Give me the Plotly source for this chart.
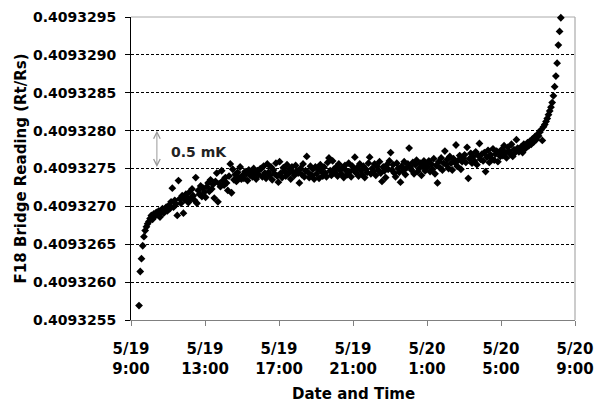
import plotly.graph_objects as go
import pandas as pd

# Bridge readings (Rt/Rs), one per scan
readings = [
    0.40932569, 0.40932614, 0.40932631, 0.40932648, 0.40932660, 0.40932668, 0.40932673, 0.40932677, 0.40932680,
    0.40932684, 0.40932688, 0.40932683, 0.40932690, 0.40932687, 0.40932692, 0.40932689, 0.40932694, 0.40932686, 0.40932693, 0.40932697, 0.40932691, 0.40932696, 0.40932699, 0.40932694,
    0.40932701, 0.40932697, 0.40932706, 0.40932724, 0.40932699, 0.40932708, 0.40932703, 0.40932688, 0.40932734, 0.40932710, 0.40932704, 0.40932714, 0.40932691, 0.40932709, 0.40932716,
    0.40932712, 0.40932705, 0.40932719, 0.40932710, 0.40932723, 0.40932714, 0.40932708, 0.40932738, 0.40932704, 0.40932721, 0.40932716, 0.40932727, 0.40932713, 0.40932724, 0.40932719,
    0.40932712, 0.40932726, 0.40932731, 0.40932720, 0.40932735, 0.40932723, 0.40932729, 0.40932711, 0.40932733, 0.40932744, 0.40932706, 0.40932730, 0.40932726, 0.40932747, 0.40932734,
    0.40932728, 0.40932738, 0.40932731, 0.40932721, 0.40932740, 0.40932756, 0.40932718, 0.40932749, 0.40932735, 0.40932742, 0.40932733, 0.40932745, 0.40932738, 0.40932752, 0.40932736,
    0.40932741, 0.40932737, 0.40932746, 0.40932743, 0.40932734, 0.40932748, 0.40932741, 0.40932745, 0.40932739, 0.40932750, 0.40932744, 0.40932736, 0.40932747, 0.40932742, 0.40932749,
    0.40932750, 0.40932739, 0.40932753, 0.40932744, 0.40932737, 0.40932756, 0.40932745, 0.40932741, 0.40932752, 0.40932735, 0.40932748, 0.40932743, 0.40932757, 0.40932740, 0.40932732,
    0.40932759, 0.40932744, 0.40932738, 0.40932751, 0.40932746, 0.40932740, 0.40932755, 0.40932743, 0.40932749, 0.40932736, 0.40932752, 0.40932745, 0.40932741, 0.40932754, 0.40932747,
    0.40932744, 0.40932731, 0.40932750, 0.40932742, 0.40932756, 0.40932739, 0.40932747, 0.40932766, 0.40932745, 0.40932738, 0.40932753, 0.40932741, 0.40932749, 0.40932736, 0.40932752,
    0.40932743, 0.40932750, 0.40932737, 0.40932755, 0.40932746, 0.40932740, 0.40932752, 0.40932744, 0.40932739, 0.40932758, 0.40932764, 0.40932747, 0.40932741, 0.40932760, 0.40932749,
    0.40932745, 0.40932752, 0.40932740, 0.40932756, 0.40932748, 0.40932743, 0.40932751, 0.40932738, 0.40932754, 0.40932747, 0.40932742, 0.40932757, 0.40932746, 0.40932739, 0.40932753,
    0.40932748, 0.40932765, 0.40932744, 0.40932751, 0.40932740, 0.40932756, 0.40932747, 0.40932742, 0.40932753, 0.40932738, 0.40932749, 0.40932745, 0.40932757, 0.40932765, 0.40932743,
    0.40932750, 0.40932746, 0.40932756, 0.40932741, 0.40932753, 0.40932748, 0.40932759, 0.40932744, 0.40932733, 0.40932752, 0.40932747, 0.40932738, 0.40932755, 0.40932749, 0.40932760,
    0.40932771, 0.40932748, 0.40932755, 0.40932744, 0.40932739, 0.40932757, 0.40932750, 0.40932745, 0.40932732, 0.40932753, 0.40932747, 0.40932759, 0.40932742, 0.40932751, 0.40932756,
    0.40932777, 0.40932752, 0.40932748, 0.40932758, 0.40932743, 0.40932755, 0.40932761, 0.40932746, 0.40932750, 0.40932757, 0.40932741, 0.40932753, 0.40932760, 0.40932747, 0.40932756,
    0.40932752, 0.40932760, 0.40932746, 0.40932756, 0.40932749, 0.40932763, 0.40932743, 0.40932754, 0.40932731, 0.40932759, 0.40932751, 0.40932764, 0.40932748, 0.40932757, 0.40932773,
    0.40932755, 0.40932762, 0.40932750, 0.40932766, 0.40932757, 0.40932748, 0.40932763, 0.40932758, 0.40932781, 0.40932753, 0.40932761, 0.40932767, 0.40932749, 0.40932759, 0.40932764,
    0.40932768, 0.40932758, 0.40932778, 0.40932737, 0.40932763, 0.40932770, 0.40932757, 0.40932766, 0.40932760, 0.40932772, 0.40932755, 0.40932767, 0.40932783, 0.40932762, 0.40932769,
    0.40932760, 0.40932771, 0.40932746, 0.40932765, 0.40932774, 0.40932758, 0.40932768, 0.40932763, 0.40932776, 0.40932761, 0.40932769, 0.40932773, 0.40932759, 0.40932770, 0.40932766,
    0.40932775, 0.40932767, 0.40932780, 0.40932771, 0.40932764, 0.40932778, 0.40932773, 0.40932769, 0.40932782, 0.40932766, 0.40932775, 0.40932771, 0.40932788, 0.40932777, 0.40932772,
    0.40932774, 0.40932779, 0.40932771, 0.40932782, 0.40932776, 0.40932778, 0.40932784, 0.40932780, 0.40932786, 0.40932782, 0.40932789, 0.40932785, 0.40932792, 0.40932788, 0.40932795,
    0.40932793, 0.40932798, 0.40932801, 0.40932787, 0.40932805, 0.40932808, 0.40932812, 0.40932816, 0.40932821, 0.40932826, 0.40932831, 0.40932837, 0.40932846, 0.40932858, 0.40932872,
    0.40932889, 0.40932913, 0.40932931, 0.40932949,
]

# scans were logged at a fixed interval
sample_start = "2003-05-19 09:26"
sample_step = "4min"
times = pd.date_range(sample_start, periods=len(readings), freq=sample_step)

x_range = ["2003-05-19 09:00", "2003-05-20 09:00"]
x_tick_vals = ["2003-05-19 09:00", "2003-05-19 13:00", "2003-05-19 17:00", "2003-05-19 21:00",
               "2003-05-20 01:00", "2003-05-20 05:00", "2003-05-20 09:00"]
x_tick_text = ["5/19<br>9:00", "5/19<br>13:00", "5/19<br>17:00", "5/19<br>21:00",
               "5/20<br>1:00", "5/20<br>5:00", "5/20<br>9:00"]
y_tick_vals = [0.4093255, 0.4093260, 0.4093265, 0.4093270, 0.4093275, 0.4093280, 0.4093285, 0.4093290, 0.4093295]
y_tick_text = ["0.4093255", "0.4093260", "0.4093265", "0.4093270", "0.4093275",
               "0.4093280", "0.4093285", "0.4093290", "0.4093295"]

# 0.5 mK marker
mk_arrow_time = "2003-05-19 10:24"
mk_arrow_top = 0.4093280
mk_arrow_bottom = 0.4093275
mk_label_time = "2003-05-19 11:03"
mk_label_value = 0.40932772

FONT = "DejaVu Sans"

fig = go.Figure()
fig.add_trace(go.Scatter(
    x=times, y=readings, mode="markers",
    marker=dict(symbol="diamond", size=6, color="black", line=dict(width=0)),
    cliponaxis=False, showlegend=False, hoverinfo="skip",
))

fig.update_layout(
    width=595, height=403,
    margin=dict(l=131, r=20, t=17, b=83, autoexpand=False),
    paper_bgcolor="white", plot_bgcolor="white",
    font=dict(family=FONT, color="black"),
    xaxis=dict(
        type="date", range=x_range, automargin=False,
        tickmode="array", tickvals=x_tick_vals, ticktext=x_tick_text,
        ticks="outside", ticklen=5, tickcolor="#808080", tickwidth=1,
        showline=True, linecolor="#808080", linewidth=1,
        showgrid=False, zeroline=False,
        tickfont=dict(family=FONT, size=15, weight="bold", color="black"),
        ticklabelstandoff=10,
    ),
    yaxis=dict(
        range=[0.4093255, 0.4093295], automargin=False,
        tickmode="array", tickvals=y_tick_vals, ticktext=y_tick_text,
        ticks="outside", ticklen=5, tickcolor="black", tickwidth=1,
        showline=True, linecolor="black", linewidth=1,
        showgrid=True, gridcolor="black", gridwidth=1, griddash="3px,2px",
        zeroline=False,
        tickfont=dict(family=FONT, size=14, weight="bold", color="black"),
        ticklabelstandoff=6,
    ),
    shapes=[
        dict(type="line", xref="paper", yref="paper", x0=1, x1=1, y0=0, y1=1,
             line=dict(color="#999999", width=1), layer="below"),
        dict(type="line", xref="paper", yref="paper", x0=0, x1=1, y0=1, y1=1,
             line=dict(color="#aaaaaa", width=1), layer="below"),
    ],
    annotations=[
        dict(text="Date and Time", xref="paper", yref="paper", x=0.5, y=-0.244,
             xanchor="center", yanchor="middle", showarrow=False,
             font=dict(family=FONT, size=15, weight="bold", color="black")),
        dict(text="F18 Bridge Reading (Rt/Rs)", xref="paper", yref="paper", x=-0.248, y=0.5,
             xanchor="center", yanchor="middle", showarrow=False, textangle=-90,
             font=dict(family=FONT, size=15, weight="bold", color="black")),
        dict(text="0.5 mK", xref="x", yref="y", x=mk_label_time, y=mk_label_value,
             xanchor="left", yanchor="middle", showarrow=False,
             font=dict(family=FONT, size=14, weight="bold", color="#222222")),
        dict(text="", xref="x", yref="y", x=mk_arrow_time, y=mk_arrow_top,
             axref="x", ayref="y", ax=mk_arrow_time, ay=mk_arrow_bottom,
             showarrow=True, arrowside="end+start", arrowhead=5, startarrowhead=5,
             arrowsize=1.3, startarrowsize=1.3, arrowwidth=1, arrowcolor="#999999",
             standoff=0, startstandoff=0),
    ],
)

fig.write_html(
    "out.html",
    config={"displayModeBar": False, "staticPlot": True},
    post_script="document.body.style.margin='0';document.body.style.overflow='hidden';",
)
